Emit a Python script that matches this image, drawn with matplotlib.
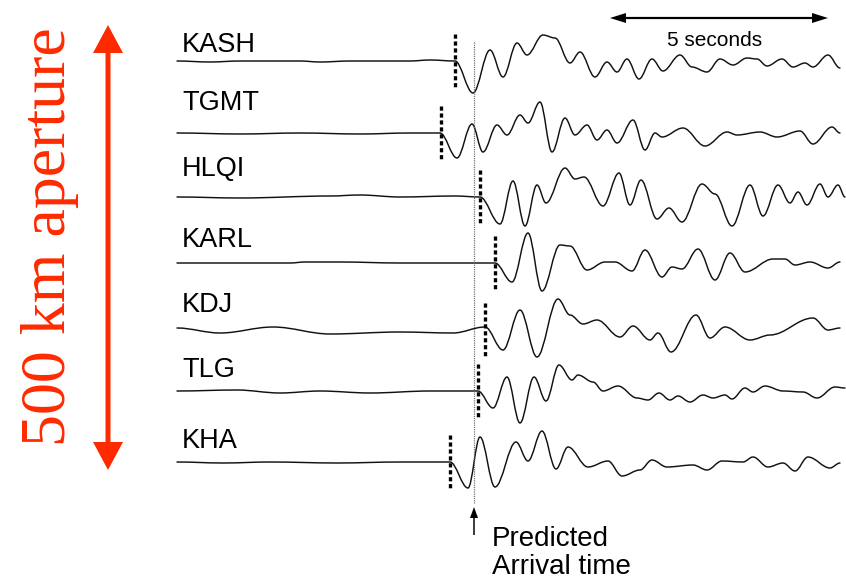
import matplotlib
matplotlib.use("Agg")
import matplotlib.pyplot as plt
from matplotlib.path import Path
from matplotlib.patches import PathPatch, FancyArrow

# ---------------- data (time in plot units, amplitude relative to trace baseline) -------------
stations = ["KASH", "TGMT", "HLQI", "KARL", "KDJ", "TLG", "KHA"]

kash = [(177, 0), (210, -1), (240, 0), (300, 0), (320, -1), (350, 0), (410, 0), (430, 1), (455, 0),
        (473, -32), (490, 11), (503, -16), (517, 18), (527, 6), (543, 26), (555, 23), (570, -2), (580, 9),
        (595, -16), (607, -1), (617, -11), (627, 2), (639, -18), (652, 2), (663, -10), (680, 6), (692, -6),
        (707, -11), (720, 2), (733, -4), (747, 3), (757, 2), (767, -5), (782, 2), (793, -6), (805, -2),
        (813, -6), (828, 6), (840, -7)]

tgmt = [(177, 0), (240, -1), (300, 0), (360, -1), (410, 0), (440, 0), (457, -25), (472, 9), (483, -19),
        (497, 8), (507, -2), (520, 18), (528, 10), (540, 31), (552, -19), (565, 15), (575, -2), (587, 8),
        (597, -7), (607, 3), (617, -10), (633, 13), (645, -17), (655, 0), (662, -4), (683, 5), (705, -13),
        (727, 1), (737, -2), (760, 1), (777, -4), (800, 2), (813, -11), (832, 6), (840, 0)]

hlqi = [(177, 0), (240, -1), (330, 1), (360, 2), (400, 0), (455, 1), (480, 0), (500, -27), (513, 16),
        (525, -29), (537, 12), (546, -6), (565, 29), (575, 18), (584, 20), (603, -9), (619, 24), (630, -8),
        (641, 17), (657, -22), (669, -11), (682, -25), (702, 13), (715, 3), (732, -29), (750, 12),
        (763, -19), (778, 12), (790, -6), (798, 5), (807, -8), (820, 13), (828, 0), (838, 12), (845, 0)]

karl = [(177, 0), (290, 0), (305, 1), (340, 1), (400, 0), (495, 0), (512, -19), (528, 30), (542, -28),
        (560, 18), (570, 17), (587, -7), (605, 1), (615, 1), (632, -8), (645, 13), (662, -14), (672, -4),
        (682, -6), (698, 14), (715, -17), (730, 10), (745, -9), (773, 4), (785, 4), (795, -2), (810, 1),
        (828, -5), (840, 1)]

kdj = [(177, 2), (220, -3), (273, 3), (330, -4), (400, -2), (453, -3), (485, 3), (503, -20), (520, 20),
       (537, -27), (558, 31), (570, 15), (583, 6), (597, 10), (620, -7), (633, 4), (650, -10), (658, -3),
       (671, -22), (696, 15), (710, -8), (725, 3), (750, -10), (770, -5), (813, 12), (828, 0), (840, 2)]

tlg = [(177, 0), (237, 1), (280, -2), (320, 0), (370, -2), (430, 0), (478, 0), (493, -17), (507, 14),
       (520, -32), (534, 14), (546, -10), (559, 26), (572, 11), (578, 16), (593, 9), (603, 0), (618, 5),
       (637, -7), (648, -9), (659, -2), (670, -9), (678, -5), (690, -11), (703, -4), (713, -7), (725, -4),
       (732, -8), (745, 3), (753, -1), (765, 5), (783, 0), (803, -1), (817, -7), (835, 4), (845, 3)]

kha = [(177, 0), (223, -1), (270, 0), (337, -1), (400, 0), (450, 0), (468, -26), (480, 25), (495, -25),
       (516, 20), (528, 1), (542, 31), (556, -7), (568, 15), (588, -5), (608, 1), (622, -14), (640, -8),
       (652, 2), (667, -5), (693, -3), (707, -8), (722, 1), (743, 0), (753, 5), (768, -5), (783, -1),
       (795, -9), (808, 5), (830, -6), (840, -1)]

traces = [kash, tgmt, hlqi, karl, kdj, tlg, kha]
pick_times = [455, 441, 480, 495, 485, 478, 450]
predicted_arrival = 474
scale_bar = (610, 828)
scale_label = "5 seconds"
aperture_label = "500 km aperture"

# ---------------- layout ----------------
baselines = [61, 133, 197, 263, 330, 391, 462]
label_bottoms = [52, 110, 176, 247, 312, 377, 448]
RED = "#ff2a00"

plt.rcParams["lines.scale_dashes"] = False

fig = plt.figure(figsize=(8.46, 5.79), dpi=100)
ax = fig.add_axes([0, 0, 1, 1])
ax.set_xlim(0, 846)
ax.set_ylim(579, 0)
ax.axis("off")


def smooth_path(pts, base, k=0.36):
    xs = [p[0] for p in pts]
    ys = [base - p[1] for p in pts]
    verts = [(xs[0], ys[0])]
    codes = [Path.MOVETO]
    for i in range(len(xs) - 1):
        dx = xs[i + 1] - xs[i]
        verts += [(xs[i] + k * dx, ys[i]), (xs[i + 1] - k * dx, ys[i + 1]), (xs[i + 1], ys[i + 1])]
        codes += [Path.CURVE4] * 3
    return Path(verts, codes)


for name, pts, base, lab_y, pick in zip(stations, traces, baselines, label_bottoms, pick_times):
    ax.add_patch(PathPatch(smooth_path(pts, base), fill=False, lw=1.05, ec="#111111",
                           capstyle="round", joinstyle="round"))
    ax.text(182, lab_y, name, fontsize=19.5, family="Liberation Sans", ha="left", va="baseline",
            color="black")
    ax.plot([pick, pick], [base - 27, base + 27], color="black", lw=2.4, dashes=(3.0, 2.0),
            solid_capstyle="butt", dash_capstyle="butt")

# predicted arrival dotted line
ax.plot([predicted_arrival, predicted_arrival], [42, 503], color="#666666", lw=0.9,
        dashes=(0.8, 0.8))
ax.add_patch(FancyArrow(predicted_arrival, 535, 0, -28, width=1.5, head_width=8, head_length=11,
                        length_includes_head=True, color="black", lw=0))
ax.text(492, 546, "Predicted", fontsize=20, family="Liberation Sans", ha="left", va="baseline")
ax.text(492, 574, "Arrival time", fontsize=20, family="Liberation Sans", ha="left", va="baseline")

# 5 seconds scale bar
mid = (scale_bar[0] + scale_bar[1]) / 2
for x0, x1 in [(mid, scale_bar[0]), (mid, scale_bar[1])]:
    ax.add_patch(FancyArrow(x0, 18, x1 - x0, 0, width=2.2, head_width=10, head_length=16,
                            length_includes_head=True, color="black", lw=0))
ax.text(715, 46, scale_label, fontsize=15, family="Liberation Sans", ha="center", va="baseline")

# red aperture arrow and label
for y0, y1 in [(247, 25), (247, 470)]:
    ax.add_patch(FancyArrow(108, y0, 0, y1 - y0, width=5, head_width=30, head_length=28,
                            length_includes_head=True, color=RED, lw=0))
ax.text(50, 237, aperture_label, fontsize=46, family="Liberation Serif", color=RED,
        rotation=90, ha="center", va="center")

fig.savefig("out.png", dpi=100)
